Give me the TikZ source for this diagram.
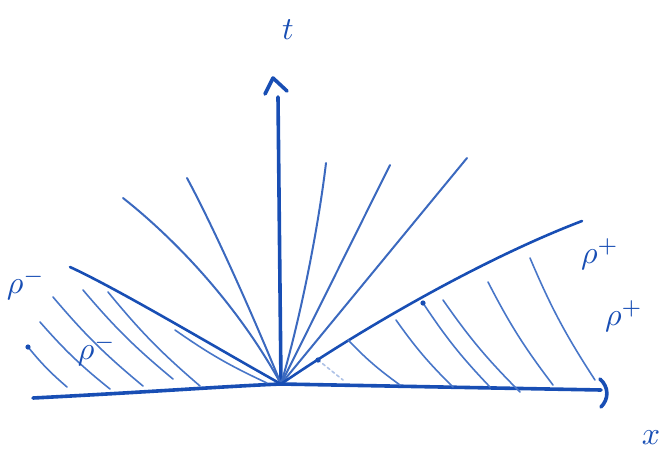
\documentclass[tikz,border=0pt]{standalone}
\definecolor{inkblue}{RGB}{24,78,180}
\definecolor{inklight}{RGB}{72,118,200}

\begin{document}
\begin{tikzpicture}[x=1pt,y=-1pt,
  axisline/.style={draw=inkblue, line width=3.6pt, line cap=round, line join=round},
  edgeline/.style={draw=inkblue, line width=2.6pt, line cap=round},
  fanline/.style={draw=inkblue!85, line width=2pt, line cap=round},
  hatch/.style={draw=inklight, line width=1.6pt, line cap=round},
  inkdot/.style={fill=inkblue, draw=none},
  lbl/.style={text=inkblue, scale=3.2}]
\useasboundingbox (0,0) rectangle (670,459);
\coordinate (O) at (281,384);
\coordinate (xL) at (33,398);
\coordinate (xR) at (601,390);
\coordinate (tT) at (278,97);
\draw[axisline] (xL) .. controls (150,392) and (230,386) .. (O) -- (xR);
\draw[axisline] (O) -- (tT);
\draw[axisline] (265,94) -- (273,78) -- (287,91);
\draw[axisline] (600,379) .. controls (609,387) and (609,399) .. (601,407);
\draw[fanline] (123,198) .. controls (170,235) and (235,300) .. (O);
\draw[fanline] (187,178) .. controls (215,230) and (255,320) .. (O);
\draw[fanline] (326,163) .. controls (318,230) and (300,320) .. (O);
\draw[fanline] (390,165) -- (O);
\draw[fanline] (467,158) -- (O);
\draw[edgeline] (70,267) .. controls (120,290) and (220,350) .. (O);
\draw[edgeline] (582,221) .. controls (480,260) and (360,330) .. (O);
\foreach \xa/\ya/\xb/\yb in {28/347/67/387, 40/322/110/389, 53/297/143/386,
  83/290/173/379, 108/292/200/386, 175/330/267/383}
  \draw[hatch] (\xa,\ya) to[bend right=5] (\xb,\yb);
\foreach \xa/\ya/\xb/\yb in {348/340/400/385, 396/320/453/387, 423/303/490/387,
  443/300/520/392, 488/282/553/385, 530/258/595/380}
  \draw[hatch] (\xa,\ya) to[bend right=5] (\xb,\yb);
\draw[hatch, inklight!45, dashed] (318,360) -- (343,380);
\fill[inkdot] (318,360) circle (2.6);
\fill[inkdot] (423,303) circle (2.6);
\fill[inkdot] (28,347) circle (2.6);
\node[lbl] (tlbl) at (288,30) {$t$};
\node[lbl] (xlbl) at (651,438) {$x$};
\node[lbl] (rhoLa) at (26,284) {$\rho^-$};
\node[lbl] (rhoLb) at (97,350) {$\rho^-$};
\node[lbl] (rhoRa) at (600,254) {$\rho^+$};
\node[lbl] (rhoRb) at (624,316) {$\rho^+$};
\end{tikzpicture}
\end{document}
